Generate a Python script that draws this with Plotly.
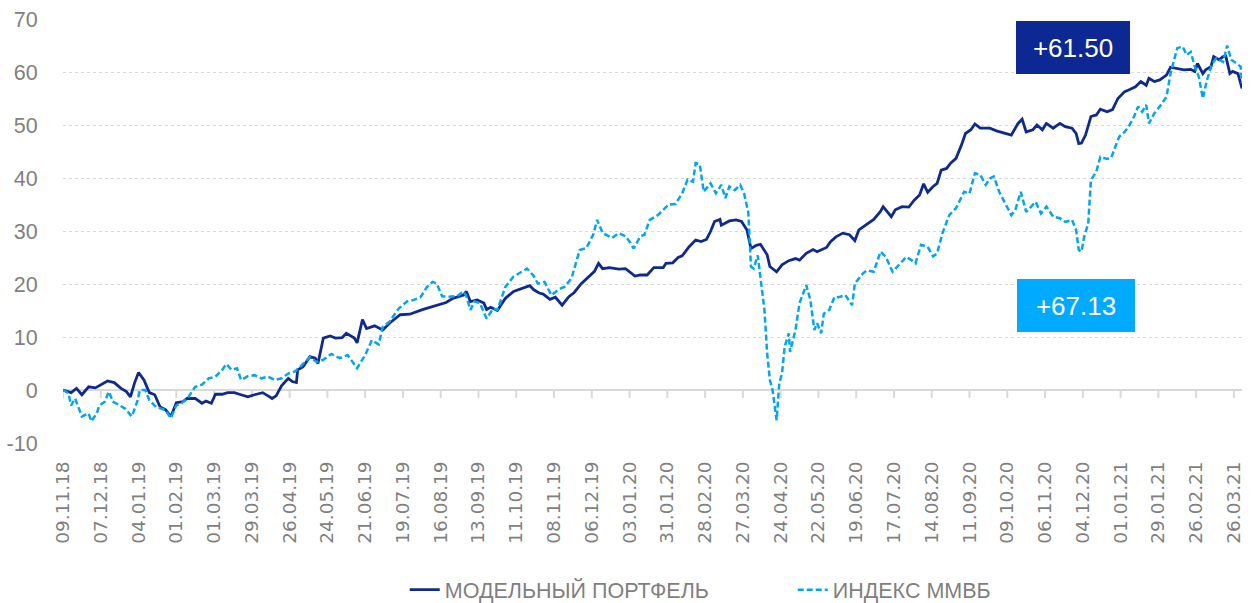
import pandas as pd
import plotly.graph_objects as go

START = "2018-11-09"

portfolio_days = [
    0, 6, 10, 14, 19, 24, 33, 38, 43, 47, 50, 53, 56, 60, 64, 68, 72, 76, 80, 84,
    89, 92, 98, 103, 106, 110, 113, 118, 122, 127, 132, 137, 142, 148, 152, 155, 158, 162, 167, 170,
    173, 174, 178, 183, 187, 189, 193, 198, 202, 207, 210, 216, 218, 220, 222, 225, 231, 237, 242, 250,
    257, 267, 277, 284, 289, 297, 299, 302, 307, 312, 314, 317, 322, 328, 334, 341, 346, 349, 353, 356,
    361, 365, 368, 370, 375, 379, 384, 389, 394, 397, 400, 405, 412, 417, 424, 428, 433, 438, 445, 447,
    452, 456, 459, 464, 469, 473, 477, 480, 483, 487, 488, 494, 499, 503, 507, 510, 514, 517, 522, 524,
    529, 533, 538, 543, 546, 551, 556, 559, 566, 569, 573, 578, 583, 587, 590, 595, 601, 606, 608, 614,
    617, 622, 627, 631, 635, 638, 641, 645, 648, 651, 655, 658, 662, 666, 669, 673, 676, 680, 687, 692,
    695, 699, 703, 708, 711, 714, 719, 722, 726, 729, 734, 739, 743, 748, 751, 753, 755, 758, 762, 766,
    769, 774, 778, 782, 787, 790, 795, 799, 803, 805, 809, 813, 818, 821, 826, 831, 836, 839, 841, 845,
    847, 851, 853, 857, 860, 862, 865, 867, 871, 874,
]
portfolio_values = [
    0.0, -0.5, 0.3, -0.9, 0.6, 0.4, 1.7, 1.4, 0.3, -0.3, -1.3, 1.3, 3.3, 1.9, -0.5, -0.9, -3.2, -3.7, -5.0, -2.4,
    -2.2, -1.6, -1.6, -2.5, -2.1, -2.5, -0.8, -0.8, -0.5, -0.5, -0.9, -1.3, -0.9, -0.5, -1.1, -1.6, -1.1, 0.8, 2.2, 1.6,
    1.4, 3.8, 4.4, 6.3, 6.0, 5.0, 9.8, 10.2, 9.8, 9.9, 10.7, 9.8, 8.9, 11.3, 13.3, 11.6, 12.1, 11.3, 12.6, 14.2,
    14.3, 15.2, 16.0, 16.5, 17.3, 17.9, 18.6, 16.7, 17.0, 16.4, 15.2, 15.6, 15.0, 17.3, 18.6, 19.2, 19.7, 18.9, 18.3, 18.1,
    17.1, 17.5, 16.5, 16.0, 17.6, 18.4, 20.0, 21.3, 22.4, 23.9, 22.9, 23.1, 22.8, 22.9, 21.5, 21.7, 21.7, 23.1, 23.1, 23.9,
    24.0, 25.0, 25.3, 27.0, 28.3, 28.0, 28.4, 29.9, 31.8, 32.2, 31.1, 31.9, 32.1, 31.8, 30.2, 26.7, 27.3, 27.5, 25.5, 23.3,
    22.3, 23.6, 24.4, 24.8, 24.5, 25.8, 26.5, 26.1, 26.9, 28.0, 28.9, 29.6, 29.3, 28.2, 30.2, 31.1, 32.2, 33.7, 34.6, 32.7,
    34.0, 34.6, 34.5, 35.8, 36.8, 38.9, 37.3, 38.4, 39.0, 41.5, 41.8, 42.8, 43.7, 46.2, 48.4, 49.1, 50.2, 49.4, 49.4, 48.9,
    48.7, 48.4, 48.1, 50.3, 51.1, 48.7, 49.1, 50.0, 49.1, 50.3, 49.4, 50.3, 49.7, 49.4, 48.4, 46.5, 46.6, 48.1, 51.6, 51.9,
    53.0, 52.5, 52.9, 55.0, 56.3, 56.6, 57.2, 58.2, 57.5, 58.8, 58.2, 58.5, 59.4, 60.9, 60.7, 60.4, 60.5, 60.1, 61.6, 59.7,
    60.4, 61.0, 62.9, 62.3, 62.9, 63.0, 59.7, 60.1, 59.7, 56.9,
]

index_days = [
    0, 4, 6, 9, 14, 19, 21, 25, 27, 31, 34, 37, 42, 46, 51, 55, 57, 61, 64, 69,
    76, 80, 84, 88, 93, 98, 103, 108, 113, 118, 121, 125, 129, 132, 137, 142, 147, 152, 157, 162,
    167, 172, 176, 183, 188, 193, 199, 205, 211, 218, 224, 229, 234, 237, 242, 249, 255, 260, 265, 270,
    274, 277, 281, 286, 292, 297, 299, 302, 305, 309, 314, 319, 322, 328, 334, 339, 344, 349, 352, 357,
    362, 367, 372, 377, 383, 388, 393, 396, 400, 407, 412, 417, 420, 423, 428, 431, 435, 441, 446, 449,
    454, 459, 463, 467, 469, 472, 475, 480, 484, 488, 491, 494, 498, 502, 505, 508, 510, 512, 515, 517,
    520, 522, 524, 526, 529, 531, 533, 535, 538, 539, 543, 546, 551, 554, 557, 559, 562, 564, 568, 572,
    575, 580, 585, 587, 593, 596, 601, 606, 610, 615, 620, 625, 629, 632, 636, 641, 645, 648, 652, 657,
    662, 668, 672, 676, 680, 684, 687, 690, 694, 699, 703, 706, 710, 714, 719, 721, 725, 729, 734, 739,
    743, 748, 751, 753, 755, 757, 760, 762, 766, 769, 774, 777, 781, 783, 787, 790, 794, 797, 800, 803,
    805, 809, 814, 818, 821, 824, 826, 830, 833, 836, 839, 842, 845, 848, 852, 855, 860, 863, 866, 870,
    873, 874,
]
index_values = [
    0.0, -0.6, -2.9, -1.6, -5.0, -4.4, -5.9, -4.4, -2.9, -2.2, -0.3, -2.2, -2.9, -3.5, -5.0, -2.2, 0.0, 0.0, -1.9, -3.2,
    -3.8, -5.3, -2.9, -2.5, -1.3, 0.6, 1.0, 2.2, 2.5, 3.8, 4.9, 3.8, 4.1, 1.9, 2.6, 2.8, 2.2, 2.5, 1.9, 2.2,
    3.1, 3.5, 4.4, 6.2, 5.3, 5.7, 6.8, 6.0, 6.6, 4.1, 6.6, 9.4, 8.6, 11.9, 12.9, 15.4, 16.7, 17.0, 17.5, 19.5,
    20.4, 20.1, 17.7, 17.6, 17.7, 18.6, 17.7, 15.1, 16.7, 16.4, 13.5, 15.4, 15.1, 19.5, 21.4, 22.1, 22.9, 21.5, 20.1, 20.4,
    17.9, 18.9, 19.5, 21.1, 26.4, 26.8, 29.3, 32.1, 29.6, 28.7, 29.6, 29.0, 28.0, 26.7, 29.0, 29.3, 32.1, 33.0, 34.3, 35.0,
    35.1, 37.1, 39.7, 39.3, 42.8, 42.6, 37.4, 39.0, 37.1, 38.7, 36.2, 38.4, 37.7, 38.7, 37.0, 33.5, 23.3, 22.9, 25.4, 21.1,
    15.1, 6.9, 1.9, 0.0, -5.7, 1.3, 3.1, 8.2, 10.7, 7.2, 11.3, 16.4, 19.8, 17.0, 11.3, 12.6, 10.7, 14.4, 15.1, 17.6,
    17.5, 17.9, 16.0, 20.1, 22.0, 22.6, 22.3, 26.1, 25.1, 22.3, 23.6, 25.1, 24.5, 23.9, 27.4, 27.0, 25.2, 25.8, 29.6, 33.0,
    34.3, 37.4, 37.1, 40.9, 40.6, 38.7, 39.9, 40.3, 37.4, 34.9, 33.0, 34.0, 37.4, 33.6, 34.9, 35.5, 33.3, 34.6, 32.7, 32.4,
    31.7, 32.1, 30.2, 26.4, 26.1, 28.9, 31.4, 39.6, 41.2, 44.0, 43.6, 43.8, 46.5, 47.8, 48.7, 49.7, 51.6, 53.5, 52.5, 53.8,
    50.3, 52.2, 53.8, 55.3, 59.7, 62.9, 64.5, 64.8, 63.2, 63.8, 61.0, 59.1, 55.0, 58.5, 61.6, 62.6, 61.9, 65.0, 62.3, 61.6,
    61.0, 57.9,
]

series_names = ["МОДЕЛЬНЫЙ ПОРТФЕЛЬ", "ИНДЕКС ММВБ"]
result_labels = ["+61.50", "+67.13"]

tick_labels = [
    "09.11.18", "07.12.18", "04.01.19", "01.02.19", "01.03.19", "29.03.19", "26.04.19", "24.05.19",
    "21.06.19", "19.07.19", "16.08.19", "13.09.19", "11.10.19", "08.11.19", "06.12.19", "03.01.20",
    "31.01.20", "28.02.20", "27.03.20", "24.04.20", "22.05.20", "19.06.20", "17.07.20", "14.08.20",
    "11.09.20", "09.10.20", "06.11.20", "04.12.20", "01.01.21", "29.01.21", "26.02.21", "26.03.21",
]
y_ticks = [-10, 0, 10, 20, 30, 40, 50, 60, 70]
y_tick_labels = ["-10", "0", "10", "20", "30", "40", "50", "60", "70"]

NAVY = "#0f2a8f"
NAVY_BOX = "#0d2893"
SKY = "#00a6f2"
SKY_BOX = "#00aaff"
GREY_TXT = "#7f7f7f"
GRID = "#d9d9d9"
SANS = "Liberation Sans, Arial, sans-serif"

start = pd.Timestamp(START)
p_dates = [start + pd.Timedelta(days=d) for d in portfolio_days]
i_dates = [start + pd.Timedelta(days=d) for d in index_days]
tick_dates = list(pd.to_datetime(tick_labels, format="%d.%m.%y"))
x_end = start + pd.Timedelta(days=max(portfolio_days[-1], index_days[-1]))

fig = go.Figure()
fig.add_trace(go.Scatter(
    x=p_dates, y=portfolio_values, mode="lines", name=series_names[0],
    line=dict(color=NAVY, width=2.8), hoverinfo="skip",
))
fig.add_trace(go.Scatter(
    x=i_dates, y=index_values, mode="lines", name=series_names[1],
    line=dict(color=SKY, width=2.5, dash="6px,3px"), hoverinfo="skip",
))

shapes = []
for d in tick_dates:
    shapes.append(dict(
        type="line", xref="x", yref="y", x0=d, x1=d,
        ysizemode="pixel", yanchor=0, y0=0, y1=-8,
        line=dict(color=GRID, width=2), layer="below",
    ))

fig.update_layout(
    width=1253, height=603,
    margin=dict(l=63, r=11, t=19, b=160, autoexpand=False),
    paper_bgcolor="white", plot_bgcolor="white",
    shapes=shapes,
    xaxis=dict(
        range=[start, x_end], tickvals=tick_dates, ticktext=tick_labels,
        tickangle=-90, ticks="outside", ticklen=10, tickcolor="rgba(0,0,0,0)",
        showgrid=False, showline=False, zeroline=False, automargin=False,
        tickfont=dict(family="DejaVu Sans", size=18.5, color=GREY_TXT),
    ),
    yaxis=dict(
        range=[-10, 70], tickvals=y_ticks, ticktext=y_tick_labels,
        ticks="outside", ticklen=20, tickcolor="rgba(0,0,0,0)", automargin=False,
        showgrid=True, gridcolor=GRID, griddash="dot", gridwidth=1,
        zeroline=True, zerolinecolor=GRID, zerolinewidth=2, showline=False,
        tickfont=dict(family=SANS, size=21.5, color=GREY_TXT),
    ),
    legend=dict(
        orientation="h", xref="container", yref="container",
        x=0.323, xanchor="left", y=0.022, yanchor="middle",
        entrywidth=343, entrywidthmode="pixels",
        font=dict(family=SANS, size=21.5, color=GREY_TXT),
        bgcolor="rgba(0,0,0,0)",
    ),
    annotations=[
        dict(xref="paper", yref="paper", x=0.857, y=0.933, text=result_labels[0],
             showarrow=False, xanchor="center", yanchor="middle",
             font=dict(family=SANS, size=26, color="white"),
             bgcolor=NAVY_BOX, width=110, height=49, borderpad=1, borderwidth=1,
             bordercolor=NAVY_BOX),
        dict(xref="paper", yref="paper", x=0.859, y=0.325, text=result_labels[1],
             showarrow=False, xanchor="center", yanchor="middle",
             font=dict(family=SANS, size=26, color="white"),
             bgcolor=SKY_BOX, width=114, height=49, borderpad=1, borderwidth=1,
             bordercolor=SKY_BOX),
    ],
)

fig.write_html(
    "out.html",
    config={"displayModeBar": False},
    post_script="document.body.style.margin='0';document.body.style.overflow='hidden';",
)
